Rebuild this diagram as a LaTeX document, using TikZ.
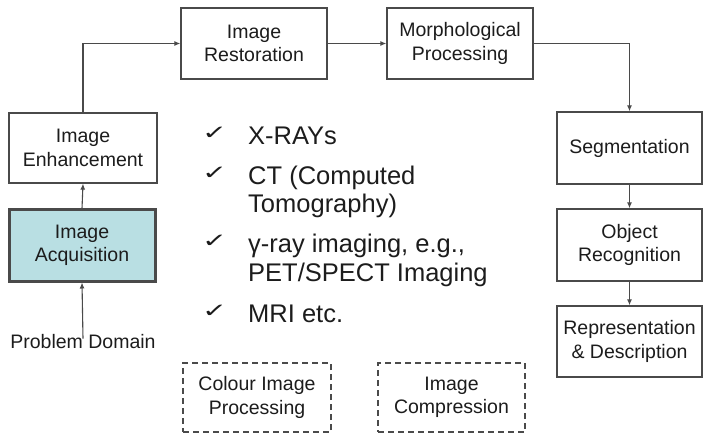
\documentclass[tikz,border=0pt]{standalone}
\usepackage{fontspec}
\setmainfont{Liberation Sans}
\newfontfamily\checkfont{DejaVu Sans}
\usetikzlibrary{arrows.meta}
\definecolor{ink}{HTML}{1C1C1C}
\definecolor{edge}{HTML}{4A4A4A}
\definecolor{acqfill}{HTML}{B9DFE3}
\newcommand{\tickmark}{\scalebox{1.25}[0.82]{✓}}
\tikzset{
  stagebox/.style={draw=edge, line width=1.3pt, fill=white, text=ink,
    align=center, inner sep=0pt,
    font=\fontsize{19.5pt}{23.5pt}\selectfont},
  extrabox/.style={stagebox, dashed, dash pattern=on 6pt off 4pt, line width=1.6pt},
  flow/.style={draw=edge, line width=1.1pt, -{Latex[length=6pt,width=5pt]}},
  bullet/.style={anchor=base west, inner sep=0pt, text=ink,
    font=\fontsize{25.5pt}{28pt}\selectfont},
  tick/.style={anchor=base west, inner sep=0pt, text=ink,
    font=\checkfont\fontsize{24pt}{26pt}\selectfont},
}
\begin{document}
\begin{tikzpicture}[x=1pt,y=-1pt]
\useasboundingbox (0,0) rectangle (703,435);

% processing stages
\node[stagebox, minimum width=148pt, minimum height=70pt] (enh) at (83,148) {Image\\Enhancement};
\node[stagebox, fill=acqfill, line width=3pt, minimum width=146pt, minimum height=71pt] (acq) at (82,245.5) {Image\\Acquisition};
\node[stagebox, minimum width=146pt, minimum height=71pt] (res) at (254,43.5) {Image\\Restoration};
\node[stagebox, minimum width=146pt, minimum height=71pt] (mor) at (460,43.5) {Morphological\\Processing};
\node[stagebox, minimum width=145pt, minimum height=72pt] (seg) at (629.5,148) {Segmentation};
\node[stagebox, minimum width=145pt, minimum height=72pt] (obj) at (629.5,245) {Object\\Recognition};
\node[stagebox, minimum width=145pt, minimum height=71pt] (rep) at (629.5,341.5) {Representation\\\& Description};

% optional stages
\node[extrabox, minimum width=148pt, minimum height=69pt] (col) at (257,397.5) {Colour Image\\Processing};
\node[extrabox, minimum width=147pt, minimum height=69pt] (cmp) at (451.5,397.5) {Image\\Compression};

% input
\node[text=ink, inner sep=0pt, font=\fontsize{19.5pt}{23.5pt}\selectfont] (dom) at (83,342) {Problem Domain};

% flow connectors
\draw[flow] (dom.north) ++(0,-4pt) coordinate (domtop) -- (acq.south);
\draw[flow] (acq.north) -- (enh.south);
\draw[flow] (enh.north) |- (res.west);
\draw[flow] (res.east) -- (mor.west);
\draw[flow] (mor.east) -| (seg.north);
\draw[flow] (seg.south) -- (obj.north);
\draw[flow] (obj.south) -- (rep.north);

% imaging modalities
\node[tick] (t1) at (202,140) {\tickmark};
\node[tick] (t2) at (202,180) {\tickmark};
\node[tick] (t3) at (202,248) {\tickmark};
\node[tick] (t4) at (202,317) {\tickmark};
\node[bullet] (m1)  at (248,145) {X-RAYs};
\node[bullet] (m2a) at (248,185) {CT (Computed};
\node[bullet] (m2b) at (248,213) {Tomography)};
\node[bullet] (m3a) at (248,253) {γ-ray imaging, e.g.,};
\node[bullet] (m3b) at (248,281) {PET/SPECT Imaging};
\node[bullet] (m4)  at (248,322) {MRI etc.};
\end{tikzpicture}
\end{document}
